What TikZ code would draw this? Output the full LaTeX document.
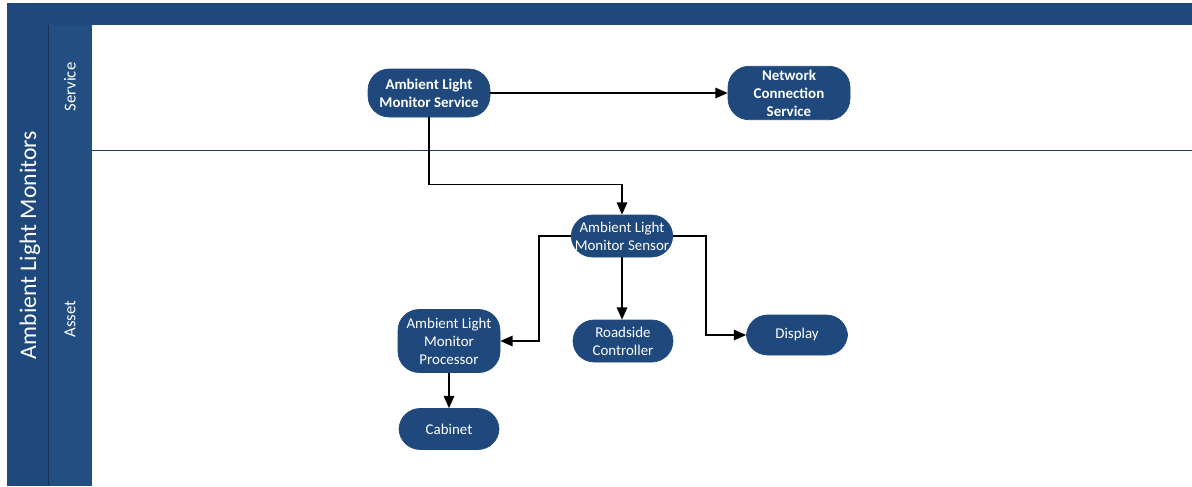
\documentclass[tikz,border=0pt]{standalone}
\usepackage{fontspec}
\setmainfont{Carlito}
\usetikzlibrary{arrows.meta, positioning, calc}

\definecolor{laneblue}{RGB}{31,73,125}
\definecolor{stripblue}{RGB}{35,78,130}

\begin{document}
\begin{tikzpicture}[
  comp/.style={draw=laneblue, fill=laneblue, rounded corners=12pt, align=center, text=white, inner sep=2pt, font=\fontsize{8.5}{10.2}\selectfont},
  svcbox/.style={comp, font=\fontsize{8.5}{10.2}\selectfont\bfseries},
  rel/.style={-{Triangle[length=7pt, width=6pt]}, thick},
  lanelabel/.style={text=white, rotate=90, font=\fontsize{9.5}{11}\selectfont}
]
\useasboundingbox (0,0) rectangle (23.84,-9.72);

% swimlane frame
\fill[laneblue] (0.14,-0.06) rectangle (23.84,-0.50);
\fill[laneblue] (0.14,-0.06) rectangle (0.96,-9.72);
\fill[stripblue] (0.96,-0.50) rectangle (1.84,-9.72);
\draw[laneblue!70!black] (0.96,-0.50) -- (0.96,-9.72);
\draw[laneblue!80!black] (1.84,-3.0) -- (23.84,-3.0);

\node[text=white, rotate=90, font=\fontsize{13.5}{15}\selectfont] (title) at (0.60,-4.90) {Ambient Light Monitors};
\node[lanelabel] (laneService) at (1.40,-1.74) {Service};
\node[lanelabel] (laneAsset) at (1.40,-6.38) {Asset};

% service lane
\node[svcbox, minimum width=2.44cm, minimum height=0.96cm] (almService) at (8.58,-1.86) {Ambient Light\\Monitor Service};
\node[svcbox, minimum width=2.44cm, minimum height=0.96cm] (netService) at (15.78,-1.86) {Network\\Connection\\Service};

% asset lane
\node[comp, minimum width=1.98cm, minimum height=0.84cm] (almSensor) at (12.44,-4.72) {Ambient Light\\Monitor Sensor};
\node[comp, minimum width=2.04cm, minimum height=1.26cm] (almProcessor) at (8.98,-6.82) {Ambient Light\\Monitor\\Processor};
\node[comp, minimum width=2.0cm, minimum height=0.84cm] (roadside) at (12.46,-6.82) {Roadside\\Controller};
\node[comp, minimum width=2.02cm, minimum height=0.80cm] (display) at (15.94,-6.70) {Display};
\node[comp, minimum width=2.0cm, minimum height=0.82cm] (cabinet) at (8.98,-8.58) {Cabinet};

\draw[rel] (almService.east) -- (netService.west);
\draw[rel] (almService.south) -- ++(0,-1.34) -| (almSensor.north);
\draw[rel] (almSensor.west) -- ++(-0.64,0) |- (almProcessor.east);
\draw[rel] (almSensor.south) -- (almSensor.south |- roadside.north);
\draw[rel] (almSensor.east) -- ++(0.66,0) |- (display.west);
\draw[rel] (almProcessor.south) -- (cabinet.north);
\end{tikzpicture}
\end{document}
